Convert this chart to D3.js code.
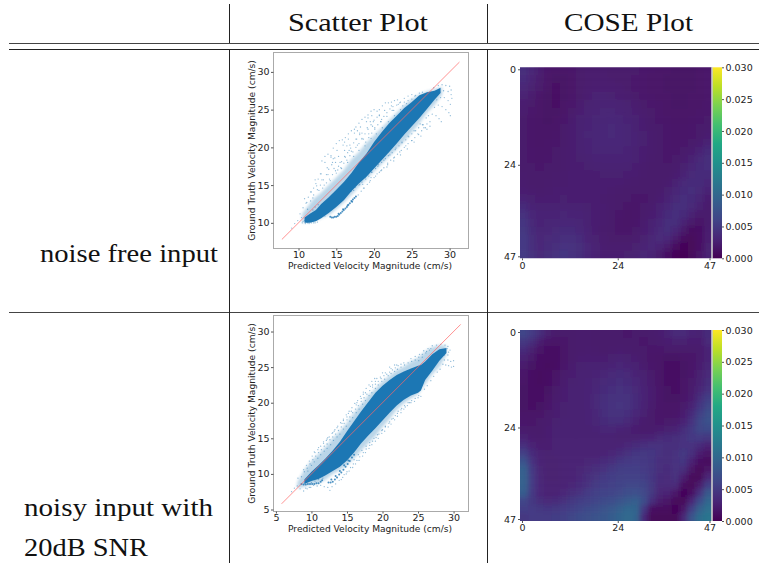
<!DOCTYPE html>
<html lang="en">
<head>
<meta charset="UTF-8">
<title>Scatter and COSE plots</title>
<script src="https://d3js.org/d3.v7.min.js"></script>
<style>
    body { margin: 0; background: #fff; }
    svg { display: block; }
    .head { font-family: "Liberation Serif", serif; fill: #111; }
    .tick text, .axis-label { font-family: "DejaVu Sans", sans-serif; fill: #222; }
</style>
</head>
<body>
<svg id="chart" width="759" height="563"></svg>
<script>
// scatter 1: dense core and lighter haze, read per x
const core1X =    [10.8, 11.5, 12.3, 13, 14, 15, 16, 17, 18, 19, 20, 21, 22, 23, 24, 25, 26, 27, 28, 28.8];
const core1Low =  [10, 10, 10.2, 10.6, 11.3, 12.1, 13, 14.2, 15.2, 16.1, 17.2, 18.3, 19.4, 20.5, 21.7, 22.8, 23.9, 25.1, 26.3, 27.2];
const core1High = [10.7, 11.2, 11.7, 12.5, 13.4, 14.4, 15.4, 16.6, 18, 19.2, 20.7, 22, 23.2, 24.2, 25.2, 26, 26.9, 27.3, 27.5, 27.9];
const haze1X =    [10.5, 12, 13, 14, 15, 16, 17, 18, 19, 20, 21, 22, 23, 24, 25, 26, 27, 28, 29];
const haze1Low =  [10, 10.2, 10.6, 11, 11.8, 12.7, 13.7, 14.8, 15.8, 16.8, 17.8, 18.8, 19.8, 20.8, 22, 23.2, 24.6, 25.6, 27];
const haze1High = [11.2, 13.2, 14, 15, 16, 17, 18.4, 19.4, 20.6, 21.6, 22.6, 23.6, 24.6, 25.6, 26.4, 27, 27.4, 27.7, 28];
const sparse1 = [
  [13.1,18.2],[13.5,18.8],[13.9,19.1],[14.3,18.9],[14.6,18.5],[14.9,18],[14.6,19.9],[15,20.5],[15.4,20.9],[15.8,21],[16.1,20.7],[16.4,20.2],[16.7,19.6],
  [16.2,21.3],[16.6,21.8],[17,22.2],[17.4,22.4],[17.8,22.2],[18.1,21.7],[18.4,21.1],[17.6,22.7],[18,23.2],[18.4,23.7],[18.8,24],[19.2,23.9],[19.5,23.4],[19.8,22.8],
  [19.2,24.3],[19.6,24.8],[20,25],[20.4,24.8],[20.7,24.3],[21,23.7],[20.7,25],[21.1,25.5],[21.5,25.9],[21.9,25.9],[22.3,25.5],[22.6,24.9],[22.3,26],[22.7,26.2],[23.1,26.3],[23.5,26],[23.8,25.5],[24,26.5],[24.5,26.8],[25,27],[25.4,26.8],
  [10.2,11.2],[10.6,12],[11,12.6],[11.3,13.4],[11.7,14.1],[12,14.6],[12.3,15.2],[12.6,15.8],[12.9,16.5],[11.2,11.8],[11.6,12.9],[12,13.7],[12.5,14.4],[12.9,15],[13.3,15.7],[13.7,16.4],[14,17.1],[14.4,17.7],[14.8,18.6],
  [13.2,14.6],[13.7,15.3],[14.1,15.8],[14.5,16.4],[14.9,16.9],[15.3,17.5],[15.7,18.1],[16.1,18.8],[16.5,19.3],[16.9,19.9],[17.3,20.6],[17.7,21.1],[18.1,21.9],[15.2,17],[15.6,17.3],[16,17.9],[16.4,18.3],[16.8,18.9],[17.2,19.4],[17.6,20],[18,20.5],[18.4,21.2],[18.8,21.8],[19.2,22.4],[19.6,23],[20,23.6],[20.4,24],
  [18.9,20.7],[19.3,21.3],[19.7,21.9],[20.1,22.4],[20.5,23],[20.9,23.4],[21.3,24.1],[21.7,24.6],[22.1,25.1],[22.5,25.4],[23,25.6],[23.4,25.9],[24,26],[24.5,26.2],[25,26.4],[25.5,26.9],[26,27.2],[26.4,27.3],
  [11.4,9.9],[11.7,10],[12,10],[10.6,10.2],[10.4,10.7],[9.9,10.3],[9.5,9.9],[9.1,9.3],
  [13.5,10.9],[14.3,11.7],[14.8,12.2],[15.3,12.7],[15.9,13.2],[16.5,13.9],[17,14.2],[17.5,14.7],[18,15],[18.4,15.4],[18.8,16],[19.3,16.2],[19.7,16.7],[20.2,17.2],[20.6,17.7],[21,18],[21.5,18.5],[21.9,18.9],[22.4,19.3],[22.8,19.7],[23.3,20.2],[23.7,20.6],[24.2,21],[24.6,21.4],[25,21.8],[25.5,22.2],[25.9,22.6],[26.4,23],
  [17.9,13.7],[18.3,14.2],[18.7,14.6],[19.1,15.1],[19.5,15.6],[20,16],[20.4,16.5],[20.9,16.9],[21.3,17.3],[21.8,17.9],[22.2,18.3],[22.7,18.7],[23.1,19.1],[23.6,19.6],[24,20],[24.5,20.5],[25,20.9],[25.4,21.3],[25.9,21.7],[26.3,22.2],[26.8,22.6],
  [18.5,15.1],[19.6,16],[20.7,16.7],[21.7,17.4],[22.6,18.2],[23.5,19],[24.4,19.8],[25.3,20.7],[26.2,21.5],[27,22.4],
  [27.4,26.2],[27.9,27.9],[28.5,28.2],[29,28.3],[29.5,28.2],[30,28.1],[30.2,27.6],[28.7,27.3],[29.2,27.5],[29.8,27.4],[30.2,27],[30.3,26.5],[28.3,26.3],[28.8,26.6],[29.3,26.6],[29.8,26.2],[30.1,25.7],[28,25.3],[28.5,25.6],[29,25.4],[29.5,25],[29.9,24.6],[30.1,24.2],[27.2,24.2],[27.7,24.4],[28.2,24.2],[28.6,23.8],[28.9,23.4],[26.5,23],[27,23.1],[27.4,22.8],
  [11.1,12.7],[11.9,13.3],[12.7,14.3],[13.4,15],[14.2,15.6],[15,16.6],[15.7,17.2],[16.5,18],[17.3,18.8],[18,19.6],[18.8,20.2],[19.6,21.2],[20.3,21.8],[21.1,22.6],[21.9,23.4],[22.7,24.2],[23.5,25],[24.3,25.8],
  [10.8,13.2],[11.6,14.1],[12.4,14.9],[13.1,15.7],[13.9,16.4],[14.7,17.2],[15.5,18],[16.2,18.7],[17,19.5],[17.8,20.3],[18.6,21.1],[19.3,21.8],[20.1,22.6],[20.9,23.4],[21.7,24.1],[22.4,24.9],[23.2,25.7],
  [12.2,15.7],[13,16.5],[13.8,17.3],[14.5,18],[15.3,18.8],[16.1,19.6],[16.8,20.3],[17.6,21.1],[18.4,21.9],[19.1,22.6],[19.9,23.4],[20.7,24.2],[21.4,24.9],
  [13.5,18],[14.3,18.7],[15.1,19.6],[15.9,20.3],[16.6,21.1],[17.4,21.9],[18.2,22.7],[19,23.4],[19.7,24.2],
  [17.3,14.3],[18.1,15.1],[18.9,15.8],[19.7,16.7],[20.5,17.5],[21.3,18.3],[22.1,19],[22.9,19.9],[23.7,20.7],[24.5,21.5],[25.3,22.2],[26.1,23.1],[26.9,23.9],
  [18.6,14.6],[19.4,15.4],[20.2,16.2],[21,17],[21.8,17.7],[22.6,18.6],[23.4,19.4],[24.2,20.2],[25,20.9],[25.8,21.8],[26.6,22.6],[27.4,23.4],
  [10.5,10],[10.8,10.3],[11,10.5],[11.3,10.9],[10.9,9.9],[11.2,10],[11.5,10.3],[11.9,11.7],[12.2,12.1],[12.6,12.4],[12.2,10],[12.5,10.1]
];
const hook1 = [[14.2,10.8],[14.4,10.7],[14.6,10.7],[14.8,10.8],[15,10.8],[15.2,10.9],[15.4,11.1],[15.6,11.3],[15.8,11.5],[16,11.7],[16.2,11.9],[16.4,12.1],[16.6,12.4],[16.8,12.6],[17,12.9],[17.2,13.1],[17.4,13.3],[17.6,13.5],[15.3,11.2],[15.9,11.8],[16.5,12.3],[17.1,12.8]];
const refLine1 = [7.8, 31.3];
const xTicks1 = [10, 15, 20, 25, 30];
const yTicks1 = [10, 15, 20, 25, 30];

// scatter 2
const core2X =    [9, 10, 11, 12, 13, 14, 15, 16, 17, 18, 19, 20, 21, 22, 23, 24, 25, 25.4, 26, 27, 28, 29];
const core2Low =  [8.6, 9, 9.3, 9.8, 10.4, 11, 11.9, 13, 14.3, 15.4, 16.4, 17.5, 18.6, 19.6, 20.4, 21, 21.4, 21.7, 23.2, 24.5, 25.9, 27];
const core2High = [9.2, 10.3, 11.2, 12.2, 13.3, 14.5, 16, 17.4, 18.8, 20.1, 21.4, 22.4, 23.2, 23.9, 24.4, 24.8, 25.2, 25.3, 25.8, 26.8, 27.5, 27.7];
const haze2X =    [8, 9, 10, 11, 12, 13, 14, 15, 16, 17, 18, 19, 20, 21, 22, 23, 24, 25, 26, 27, 28, 29];
const haze2Low =  [8, 8.2, 8.5, 8.7, 9.2, 10, 10.5, 11.2, 12.2, 13.3, 14.3, 15.3, 16.6, 17.7, 19, 19.9, 20.6, 21.2, 22.6, 24, 25, 26.7];
const haze2High = [8.8, 10.6, 11.8, 12.8, 13.8, 15, 16, 17.2, 18.6, 19.8, 21, 22, 23, 23.8, 24.6, 25.1, 25.8, 26.3, 27.2, 27.8, 28.1, 28];
const sparse2 = [
  [8.6,9.6],[9,10.3],[9.4,10.8],[9.8,11.4],[10.2,12],[10.6,12.5],[11,13],[11.4,13.4],[11.8,13.9],[12.2,14.2],[12.6,14.8],[13,15.2],[13.4,15.6],[13.8,16.1],[14.2,16.6],[14.6,17.1],[15,17.6],[15.4,18],[15.8,18.6],[16.2,19.1],[16.6,19.6],[17,20.2],[17.4,20.7],[17.8,21.2],[18.2,21.7],[18.6,22.2],[19,22.6],[19.4,23],[19.8,23.4],[20.2,23.8],[20.6,24],[21,24.3],[21.4,24.6],[21.8,24.9],[22.2,25.2],[22.6,25.4],
  [10.4,13.1],[11,13.7],[11.7,14.5],[12.3,15.1],[13,15.8],[13.6,16.5],[14.3,17.1],[15,18],[15.6,18.8],[16.3,19.7],[17,20.6],[17.6,21.4],[18.3,22.3],[19,23],[19.7,23.6],[20.4,24.2],[21.2,24.8],[22,25.3],[23,25.6],[24,26.2],[24.6,26.5],[25.2,26.8],[25.8,27.3],[26.4,27.6],[27,28],[27.6,28.1],[28.2,28.2],[28.8,28.1],[29.2,27.9],
  [7.2,7.5],[7.6,8],[8,8.3],[8.4,7.9],[8.9,7.6],[9.4,7.9],[9.9,8.1],[10.3,8.4],[10.8,8.3],[11.3,8.4],[11.8,8.2],[12.3,8.1],[12.6,7.7],[12.9,8.2],[13.4,8.6],[13.9,9.1],[14.4,9.5],[14.9,10],[15.3,10.4],[15.8,10.9],[16.2,11.4],[16.7,11.9],[17.2,12.5],[17.6,13],[18.1,13.6],[18.5,14.1],[19,14.6],[19.4,15],[19.9,15.7],[20.3,16],[20.8,16.6],[21.2,17],[21.7,17.6],[22.1,18.1],[22.6,18.6],[23,19.1],[23.5,19.6],[24,20],[24.5,20.2],[25,20.7],[25.4,20.9],[25.9,21.9],[26.3,22.4],[26.8,23.1],[27.2,23.7],[27.7,24.3],[28.1,24.7],
  [28.5,25.4],[28.9,25.3],[29.3,25.2],[29.7,25],[30,25.1],[28.7,26],[29.2,26],[29.6,25.8],[30,25.9],[29.3,27.1],[29.5,27.4],[29.1,27.6],[28.7,26.7],[29.2,26.7],
  [10,8.8],[10.5,9],[11,9.2],[11.6,9.4],[9.2,8],[9.7,8.1],[26.2,27.2],[26.8,27.6],[25.1,25.9],[25.6,26.4],
  [8.1,9.4],[12.2,14.9],[13.2,16],[14.5,17.5],[15.2,18.5],[16.4,20],[17.3,21.2],[18.6,22.5],[19.2,23.4],[20,24.2],[21,25],[21.7,25.3],
  [8.9,10.6],[9.3,11.2],[9.7,11.8],[10.1,12.5],[10.5,13],[10.9,13.4],[11.3,13.9],[11.7,14.3],[12.1,14.7],[12.5,15.2],[12.9,15.7],[13.3,16.2],[13.7,16.7],[14.1,17.2],[14.5,17.7],[14.9,18.3],[15.3,18.8],[15.7,19.3],[16.1,19.9],[16.5,20.3],[16.9,20.9],[17.3,21.5],[17.7,22],[18.1,22.5],[18.5,23],[18.9,23.4],
  [9.5,10.4],[10,11.2],[10.4,11.7],[10.9,12.2],[11.3,12.7],[11.8,13.2],[12.2,13.6],[12.7,14.1],[13.1,14.7],[13.6,15.2],[14,15.6],[14.5,16.3],[14.9,16.7],[15.4,17.4],[15.8,17.9],[16.3,18.6],[16.7,19.1],[17.2,19.8],[17.6,20.3],[18.1,21],[18.5,21.4],[19,22],[19.4,22.5],[19.9,23],[20.3,23.3],[20.8,23.8],[21.2,24.1],[21.7,24.4],[22.1,24.7],[22.6,25],[23.1,25.3],[23.6,25.6],[24.1,25.8],[24.6,26],[25.1,26.4],[25.6,26.8],[26.1,27],[26.6,27.4],
  [14.2,9.2],[14.6,9.9],[15,10.3],[15.5,10.9],[15.9,11.4],[16.4,11.9],[16.8,12.4],[17.3,13],[17.7,13.5],[18.2,14],[18.6,14.6],[19.1,15.1],[19.5,15.6],[20,16.2],[20.4,16.7],[20.9,17.1],[21.3,17.7],[21.8,18.2],[22.2,18.8],[22.7,19.2],[23.1,19.6],[23.6,20],[24.1,20.3],[24.6,20.6],[25.1,21],
  [16,12],[16.6,12.7],[17.1,13.3],[17.7,13.9],[18.2,14.4],[18.8,15],[19.3,15.5],[19.9,16.1],[20.4,16.6],[21,17.3],[21.5,17.8],[22.1,18.5],[22.6,19],[23.2,19.4],[23.8,20]
];
const hook2 = [[8.6,8.6],[8.9,8.5],[9.2,8.5],[9.5,8.6],[9.8,8.6],[10.1,8.6],[10.4,8.6],[10.7,8.7],[11,8.7],[11.3,8.9],[11.5,9.1],[12.4,8.8],[12.7,8.8],[13,8.9],[13.3,9.2],[13.6,9.5],[13.9,9.9],[14.2,10.2],[14.5,10.6],[14.8,11],[15.1,11.4],[15.4,11.8],[15.7,12.3],[16,12.7],[12.8,9.2],[13.4,9.7],[14,10.4],[14.6,11.2],[15.2,11.9]];
const refLine2 = [5.8, 31];
const xTicks2 = [5, 10, 15, 20, 25, 30];
const yTicks2 = [5, 10, 15, 20, 25, 30];

// COSE maps, units of 0.0001, every second row and column of the 48x48 map
const cose1 = [
  [38,32,24,18,16,16,18,20,22,22,22,21,20,20,20,19,18,17,16,15,15,15,16,18],
  [36,30,22,17,15,15,17,20,22,23,23,22,21,20,19,18,17,16,15,15,15,15,16,18],
  [32,26,20,16,14,15,17,20,23,25,25,24,23,21,19,18,17,16,15,15,15,15,16,18],
  [28,23,18,15,14,15,18,21,25,27,27,26,25,23,21,19,18,17,16,15,15,16,16,18],
  [25,20,17,15,14,16,19,23,26,28,29,29,28,26,23,21,19,18,16,15,15,16,17,19],
  [23,19,16,15,15,17,21,25,28,30,31,31,30,28,25,22,20,18,17,16,16,17,18,19],
  [21,18,16,15,16,19,23,27,29,31,32,33,32,30,27,24,21,19,18,17,17,18,19,20],
  [20,18,16,16,17,20,24,28,30,32,33,34,33,31,28,25,22,20,19,18,18,19,20,22],
  [20,18,17,17,18,21,25,28,31,32,33,34,33,31,29,26,23,21,19,18,18,19,21,24],
  [20,18,17,18,19,21,25,28,30,32,33,33,33,31,29,26,23,21,19,18,19,21,25,30],
  [20,19,18,18,20,22,25,27,29,31,32,32,32,30,28,25,23,20,19,19,21,25,30,36],
  [21,19,18,19,20,22,24,26,28,29,30,30,30,29,27,24,22,20,19,20,23,28,34,38],
  [21,20,19,20,21,22,24,25,26,27,28,28,28,27,25,23,21,20,20,22,26,32,36,38],
  [22,20,20,21,22,23,24,24,25,25,26,26,26,25,24,22,20,20,21,24,30,35,37,36],
  [23,21,21,22,23,23,24,24,24,24,24,24,24,23,22,21,20,20,23,28,34,37,37,33],
  [25,23,22,23,24,24,24,24,24,24,24,23,22,21,20,20,20,22,26,32,36,38,35,29],
  [30,26,24,25,25,26,25,25,25,24,23,22,21,20,19,19,21,24,29,35,39,37,31,25],
  [36,30,27,27,28,28,28,27,26,25,24,22,20,18,18,20,23,27,33,38,38,34,27,22],
  [42,33,29,29,30,31,30,29,27,25,23,21,19,17,18,21,25,30,36,40,36,28,22,22],
  [46,35,30,31,32,33,33,31,28,25,23,20,18,17,19,23,27,33,39,38,30,20,16,22],
  [48,37,31,32,34,36,36,33,29,25,22,20,18,18,20,24,29,35,38,33,20,11,14,24],
  [50,38,32,34,37,40,40,36,30,26,23,21,20,20,22,26,31,35,33,22,10,6,12,24],
  [50,40,33,37,41,44,43,38,32,27,24,23,23,23,26,29,32,30,22,10,4,5,14,26],
  [52,42,35,39,44,46,44,38,32,27,25,25,25,26,28,31,30,22,12,4,3,6,16,28]
];
const cose2 = [
  [62,52,38,26,20,20,20,22,22,20,20,20,20,19,20,20,22,24,30,34,34,30,28,36],
  [48,38,24,18,16,18,20,22,22,20,20,20,20,20,20,19,20,22,25,26,26,25,25,34],
  [36,26,17,14,14,17,20,22,23,22,21,22,23,22,21,20,19,19,20,20,20,20,22,30],
  [28,20,14,12,13,17,21,24,25,24,24,26,28,26,24,21,18,16,15,15,16,18,22,30],
  [22,15,12,11,14,19,23,26,27,27,28,30,32,30,27,23,19,16,14,14,15,18,24,32],
  [18,13,11,12,16,21,25,27,28,29,31,34,36,34,30,26,21,16,14,14,15,19,26,34],
  [16,12,11,13,18,23,26,28,29,31,34,37,38,37,33,28,23,17,14,14,16,20,28,38],
  [15,12,12,15,20,24,27,28,30,33,37,40,42,40,35,30,24,18,15,14,16,22,32,44],
  [15,13,13,17,22,25,27,28,30,34,39,43,44,42,37,30,24,18,15,15,18,25,38,54],
  [15,14,15,19,24,26,27,28,30,34,40,44,45,43,36,29,23,18,16,16,20,30,46,64],
  [17,16,17,21,25,26,27,28,29,33,39,42,43,40,33,27,21,18,17,18,24,36,56,72],
  [19,18,20,23,26,27,27,27,29,32,36,38,38,34,28,23,20,19,20,22,30,44,64,74],
  [22,20,21,24,27,28,27,27,28,30,32,32,30,27,24,22,22,24,26,30,38,50,64,66],
  [28,23,22,25,27,28,27,27,27,28,28,27,26,26,26,28,30,34,36,38,44,50,52,48],
  [40,29,25,25,27,28,28,28,28,28,27,28,30,33,36,40,42,42,40,40,44,44,36,28],
  [56,36,27,26,27,28,28,28,28,28,29,32,37,42,46,48,46,42,38,42,48,40,24,16],
  [74,44,29,26,26,27,29,30,31,33,36,40,46,50,52,50,46,40,38,44,46,28,12,8],
  [88,50,31,26,26,27,29,31,34,38,44,49,53,55,55,52,46,38,36,44,38,16,5,16],
  [92,52,32,26,26,28,30,33,38,45,50,54,56,58,57,54,46,37,34,42,24,7,7,32],
  [92,52,33,27,27,29,32,36,44,51,55,57,59,63,64,60,48,35,34,34,10,5,22,54],
  [86,50,33,28,29,33,38,44,52,57,59,61,65,71,73,65,48,31,30,18,4,12,44,82],
  [62,48,38,34,36,42,48,54,58,62,66,70,76,84,88,70,40,22,16,7,7,32,68,98],
  [54,52,48,46,48,52,57,62,67,71,75,81,90,98,94,50,13,9,9,4,18,58,92,110],
  [48,52,52,52,55,58,63,68,72,76,80,86,96,102,96,36,5,5,5,5,32,78,106,116]
];
const coseTicks = [0, 24, 47];
const cbarTicks = [0, 0.005, 0.01, 0.015, 0.02, 0.025, 0.03];

const svg = d3.select("#chart");
const defs = svg.append("defs");

// table rules
const tbl = svg.append("g").attr("stroke", "#222").attr("fill", "none");
tbl.append("line").attr("x1", 9).attr("x2", 759).attr("y1", 43.5).attr("y2", 43.5).attr("stroke", "#444");
tbl.append("line").attr("x1", 9).attr("x2", 759).attr("y1", 49.5).attr("y2", 49.5);
tbl.append("line").attr("x1", 9).attr("x2", 759).attr("y1", 312.5).attr("y2", 312.5).attr("stroke", "#444");
[229.5, 487.5].forEach(x => {
    tbl.append("line").attr("x1", x).attr("x2", x).attr("y1", 4).attr("y2", 43);
    tbl.append("line").attr("x1", x).attr("x2", x).attr("y1", 50).attr("y2", 563);
});

function label(txt, x, y, len, size) {
    svg.append("text").attr("class", "head").attr("x", x).attr("y", y)
        .attr("font-size", size).attr("textLength", len).attr("lengthAdjust", "spacingAndGlyphs").text(txt);
}
label("Scatter Plot", 288, 31, 140, 26);
label("COSE Plot", 564, 31, 129, 26);
label("noise free input", 40, 262, 178, 26);
label("noisy input with", 24, 516, 189, 26);
label("20dB SNR", 24, 556, 124, 26);

function softFilter(id, dev) {
    defs.append("filter").attr("id", id).attr("x", "-10%").attr("y", "-10%").attr("width", "120%").attr("height", "120%")
        .append("feGaussianBlur").attr("stdDeviation", dev);
}
softFilter("soft", 2.6);
softFilter("hazeBlur", 1.6);
softFilter("coreBlur", 0.7);

function scatter(box, xDom, yDom, xTicks, yTicks, d) {
    const x = d3.scaleLinear().domain(xDom).range([box.l, box.r]);
    const y = d3.scaleLinear().domain(yDom).range([box.b, box.t]);
    const g = svg.append("g");
    const area = (xs, lo, hi) => d3.area().x((v, i) => x(xs[i])).y0((v, i) => y(lo[i])).y1(v => y(v))(hi);

    g.append("path").attr("d", area(d.hazeX, d.hazeLow, d.hazeHigh)).attr("fill", "#1f77b4").attr("opacity", 0.3)
        .attr("filter", "url(#hazeBlur)");
    g.selectAll(".pt").data(d.sparse).enter().append("circle").attr("class", "pt")
        .attr("cx", p => x(p[0])).attr("cy", p => y(p[1])).attr("r", 0.65)
        .attr("fill", "#1f77b4").attr("opacity", 0.5);
    g.selectAll(".hook").data(d.hook).enter().append("circle").attr("class", "hook")
        .attr("cx", p => x(p[0])).attr("cy", p => y(p[1])).attr("r", 1)
        .attr("fill", "#1f77b4").attr("opacity", 0.8);
    g.append("path").attr("d", area(d.coreX, d.coreLow, d.coreHigh)).attr("fill", "#1f77b4")
        .attr("filter", "url(#coreBlur)");
    g.append("line").attr("x1", x(d.ref[0])).attr("y1", y(d.ref[0])).attr("x2", x(d.ref[1])).attr("y2", y(d.ref[1]))
        .attr("stroke", "#f66").attr("stroke-width", 0.9).attr("opacity", 0.8);

    g.append("rect").attr("x", box.l).attr("y", box.t).attr("width", box.r - box.l).attr("height", box.b - box.t)
        .attr("fill", "none").attr("stroke", "#aaa");

    const ax = g.append("g").attr("transform", `translate(0,${box.b})`)
        .call(d3.axisBottom(x).tickValues(xTicks).tickSize(2).tickPadding(0.5).tickSizeOuter(0));
    const ay = g.append("g").attr("transform", `translate(${box.l},0)`)
        .call(d3.axisLeft(y).tickValues(yTicks).tickSize(2.5).tickPadding(1.5).tickSizeOuter(0));
    [ax, ay].forEach(a => {
        a.select(".domain").remove();
        a.selectAll("line").attr("stroke", "#555");
        a.selectAll("text").attr("font-size", 9.5);
    });
    g.append("text").attr("class", "axis-label").attr("x", (box.l + box.r) / 2 - 1).attr("y", box.b + 20.5)
        .attr("text-anchor", "middle").attr("font-size", 9.1).text("Predicted Velocity Magnitude (cm/s)");
    g.append("text").attr("class", "axis-label").attr("text-anchor", "middle").attr("font-size", 9.1)
        .attr("transform", `translate(${box.l - 19},${(box.t + box.b) / 2}) rotate(-90)`)
        .text("Ground Truth Velocity Magnitude (cm/s)");
}

scatter({l: 273.5, r: 468.5, t: 52.5, b: 248.5}, [6.69, 32.5], [6.6, 32.57], xTicks1, yTicks1, {
    coreX: core1X, coreLow: core1Low, coreHigh: core1High, hazeX: haze1X, hazeLow: haze1Low, hazeHigh: haze1High,
    sparse: sparse1, hook: hook1, ref: refLine1
});
scatter({l: 273.5, r: 468.5, t: 315.5, b: 511.5}, [4.66, 32.1], [4.72, 32.25], xTicks2, yTicks2, {
    coreX: core2X, coreLow: core2Low, coreHigh: core2High, hazeX: haze2X, hazeLow: haze2Low, hazeHigh: haze2High,
    sparse: sparse2, hook: hook2, ref: refLine2
});

const grad = defs.append("linearGradient").attr("id", "viridis").attr("x1", 0).attr("x2", 0).attr("y1", 1).attr("y2", 0);
d3.range(0, 1.01, 0.1).forEach(t => grad.append("stop").attr("offset", t).attr("stop-color", d3.interpolateViridis(t)));

const color = d3.scaleSequential(d3.interpolateViridis).domain([0, 300]);

function cose(id, top, grid) {
    const box = {l: 520, r: 711.5, t: top, b: top + 191};
    const cw = (box.r - box.l) / 24;
    const cx = d3.scaleBand().domain(d3.range(24)).range([box.l, box.r]);
    const cy = d3.scaleBand().domain(d3.range(24)).range([box.t, box.b]);
    defs.append("clipPath").attr("id", id).append("rect")
        .attr("x", box.l).attr("y", box.t).attr("width", box.r - box.l).attr("height", box.b - box.t);
    const g = svg.append("g");
    const cells = g.append("g").attr("clip-path", `url(#${id})`).append("g").attr("filter", "url(#soft)");
    grid.forEach((row, r) => row.forEach((v, c) => {
        // edge cells run past the clip so the blur does not fade the border
        const x0 = cx(c) - (c === 0 ? cw : 0), y0 = cy(r) - (r === 0 ? cw : 0);
        cells.append("rect").attr("x", x0).attr("y", y0)
            .attr("width", cw + 0.5 + (c === 0 || c === 23 ? cw : 0))
            .attr("height", cw + 0.5 + (r === 0 || r === 23 ? cw : 0))
            .attr("fill", color(v));
    }));
    const tx = d3.scaleLinear().domain([-0.5, 47.5]).range([box.l, box.r]);
    const ty = d3.scaleLinear().domain([-0.5, 47.5]).range([box.t, box.b]);
    const ax = g.append("g").attr("transform", `translate(0,${box.b})`)
        .call(d3.axisBottom(tx).tickValues(coseTicks).tickSize(2).tickPadding(1.5).tickSizeOuter(0));
    const ay = g.append("g").attr("transform", `translate(${box.l},0)`)
        .call(d3.axisLeft(ty).tickValues(coseTicks).tickSize(2).tickPadding(2).tickSizeOuter(0));
    const cbar = d3.scaleLinear().domain([0, 0.03]).range([box.b, box.t]);
    g.append("rect").attr("x", 712.5).attr("y", box.t).attr("width", 9.5).attr("height", box.b - box.t)
        .attr("fill", "url(#viridis)");
    g.append("line").attr("x1", 712).attr("x2", 712).attr("y1", box.t).attr("y2", box.b).attr("stroke", "#bbb").attr("stroke-width", 1.2);
    const ac = g.append("g").attr("transform", "translate(722,0)")
        .call(d3.axisRight(cbar).tickValues(cbarTicks).tickFormat(d3.format(".3f")).tickSize(2).tickPadding(1.5).tickSizeOuter(0));
    [ax, ay, ac].forEach(a => {
        a.select(".domain").remove();
        a.selectAll("line").attr("stroke", "#555");
        a.selectAll("text").attr("font-size", 9.5);
    });
}
cose("clip1", 67.3, cose1);
cose("clip2", 330, cose2);
</script>
</body>
</html>
